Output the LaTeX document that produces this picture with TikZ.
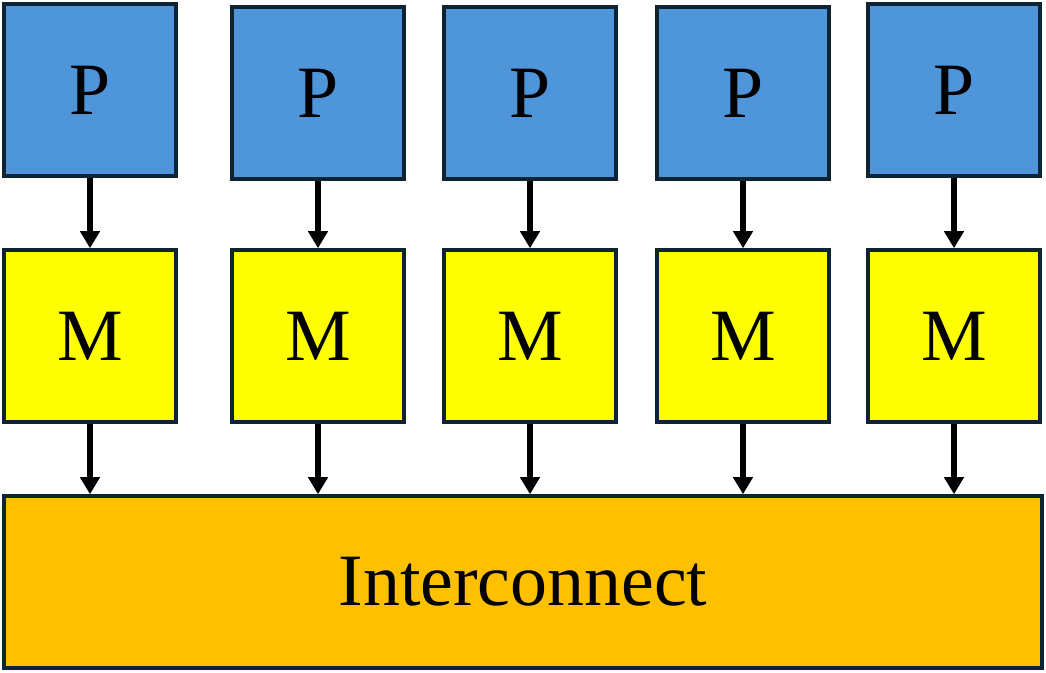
\documentclass[tikz,border=0pt]{standalone}
\usepackage{fontspec}
\setmainfont{Liberation Serif}
\usetikzlibrary{arrows.meta,positioning}
\definecolor{procblue}{HTML}{4E95D9}
\definecolor{memyellow}{HTML}{FFFF00}
\definecolor{netorange}{HTML}{FFC000}
\definecolor{edgedark}{HTML}{0E2433}

\begin{document}
\begin{tikzpicture}[>={Triangle[width=0.38cm,length=0.34cm]},
    unitbox/.style={draw=edgedark,line width=2pt,minimum width=3.44cm,minimum height=3.44cm,inner sep=0pt,font=\fontsize{42}{42}\selectfont},
    link/.style={->,line width=3.3pt}]
      \useasboundingbox (0,0) rectangle (20.92,-13.46);
      \foreach \n/\x/\y in {1/1.80/1.80,2/6.36/1.86,3/10.60/1.86,4/14.86/1.86,5/19.08/1.80} {
        \node[unitbox,fill=procblue] (p\n) at (\x,-\y) {P};
        \node[unitbox,fill=memyellow] (m\n) at (\x,-6.72) {M};
      }
      \node[unitbox,fill=netorange,minimum width=20.76cm] (ic) at (10.46,-11.64) {Interconnect};
      \foreach \n in {1,...,5} {
        \draw[link] (p\n) -- (m\n);
        \draw[link] (m\n) -- (m\n |- ic.north);
      }
    \end{tikzpicture}
\end{document}
